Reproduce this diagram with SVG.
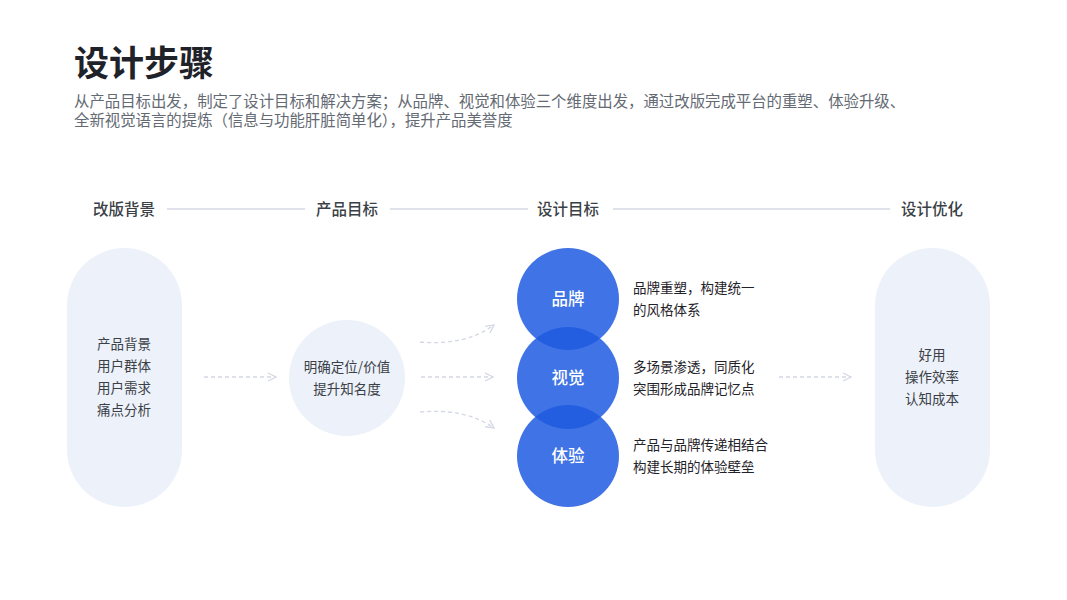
<svg xmlns="http://www.w3.org/2000/svg" width="1067" height="600" viewBox="0 0 1067 600">
<defs>
<style>
text{font-family:"Noto Sans CJK SC","Noto Sans",sans-serif;}
.title{font-size:35px;font-weight:700;fill:#1f2329;}
.sub{font-size:15.4px;fill:#646a73;}
.hd{font-size:15.5px;fill:#3b3f46;text-anchor:middle;font-weight:500;}
.hline{stroke:#d4d9e3;stroke-width:1.5;}
.pill{fill:#ecf1fa;}
.t{font-size:13.5px;fill:#3b3f46;text-anchor:middle;}
.desc{font-size:13.5px;fill:#1f2329;}
.blue{fill:#1E5BE0;fill-opacity:0.85;}
.wt{font-size:16.5px;fill:#ffffff;text-anchor:middle;font-weight:500;}
.dash{fill:none;stroke:#d3d8e4;stroke-width:1.3;stroke-dasharray:4 3;}
</style>
<marker id="ah" viewBox="0 0 10 10" refX="9" refY="5" markerWidth="10" markerHeight="10" markerUnits="userSpaceOnUse" orient="auto">
<path d="M1 1 L9 5 L1 9" fill="none" stroke="#d3d8e4" stroke-width="1.3"/>
</marker>
</defs>
<rect width="1067" height="600" fill="#ffffff"/>
<text class="title" x="74" y="76">设计步骤</text>
<text class="sub" x="74" y="107">从产品目标出发，制定了设计目标和解决方案；从品牌、视觉和体验三个维度出发，通过改版完成平台的重塑、体验升级、</text>
<text class="sub" x="74" y="126">全新视觉语言的提炼（信息与功能肝脏简单化），提升产品美誉度</text>
<g id="headers">
<text class="hd" x="124" y="215">改版背景</text>
<text class="hd" x="347" y="215">产品目标</text>
<text class="hd" x="568" y="215">设计目标</text>
<text class="hd" x="932" y="215">设计优化</text>
<line class="hline" x1="167" y1="209" x2="305" y2="209"/>
<line class="hline" x1="390" y1="209" x2="528" y2="209"/>
<line class="hline" x1="613" y1="209" x2="890" y2="209"/>
</g>
<g id="connectors">
<line class="dash" x1="204" y1="377" x2="276" y2="377" marker-end="url(#ah)"/>
<path class="dash" d="M420 342 Q465 346 494 325" marker-end="url(#ah)"/>
<line class="dash" x1="421" y1="377" x2="493" y2="377" marker-end="url(#ah)"/>
<path class="dash" d="M420 412 Q465 408 494 428" marker-end="url(#ah)"/>
<line class="dash" x1="779" y1="377" x2="851" y2="377" marker-end="url(#ah)"/>
</g>
<g id="background">
<rect class="pill" x="67" y="248" width="115" height="259" rx="57.5"/>
<text class="t" x="124" y="349">产品背景</text>
<text class="t" x="124" y="371">用户群体</text>
<text class="t" x="124" y="393">用户需求</text>
<text class="t" x="124" y="415">痛点分析</text>
</g>
<g id="product-goal">
<circle class="pill" cx="347" cy="378" r="58"/>
<text class="t" x="347" y="372">明确定位/价值</text>
<text class="t" x="347" y="394">提升知名度</text>
</g>
<g id="brand">
<circle class="blue" cx="568" cy="299" r="51"/>
<text class="wt" x="568" y="305">品牌</text>
<text class="desc" x="633" y="293">品牌重塑，构建统一</text>
<text class="desc" x="633" y="315">的风格体系</text>
</g>
<g id="visual">
<circle class="blue" cx="568" cy="378" r="51"/>
<text class="wt" x="568" y="384">视觉</text>
<text class="desc" x="633" y="372">多场景渗透，同质化</text>
<text class="desc" x="633" y="394">突围形成品牌记忆点</text>
</g>
<g id="experience">
<circle class="blue" cx="568" cy="456" r="51"/>
<text class="wt" x="568" y="462">体验</text>
<text class="desc" x="633" y="450">产品与品牌传递相结合</text>
<text class="desc" x="633" y="472">构建长期的体验壁垒</text>
</g>
<g id="optimization">
<rect class="pill" x="875" y="248" width="115" height="259" rx="57.5"/>
<text class="t" x="932" y="360">好用</text>
<text class="t" x="932" y="382">操作效率</text>
<text class="t" x="932" y="404">认知成本</text>
</g>
</svg>
